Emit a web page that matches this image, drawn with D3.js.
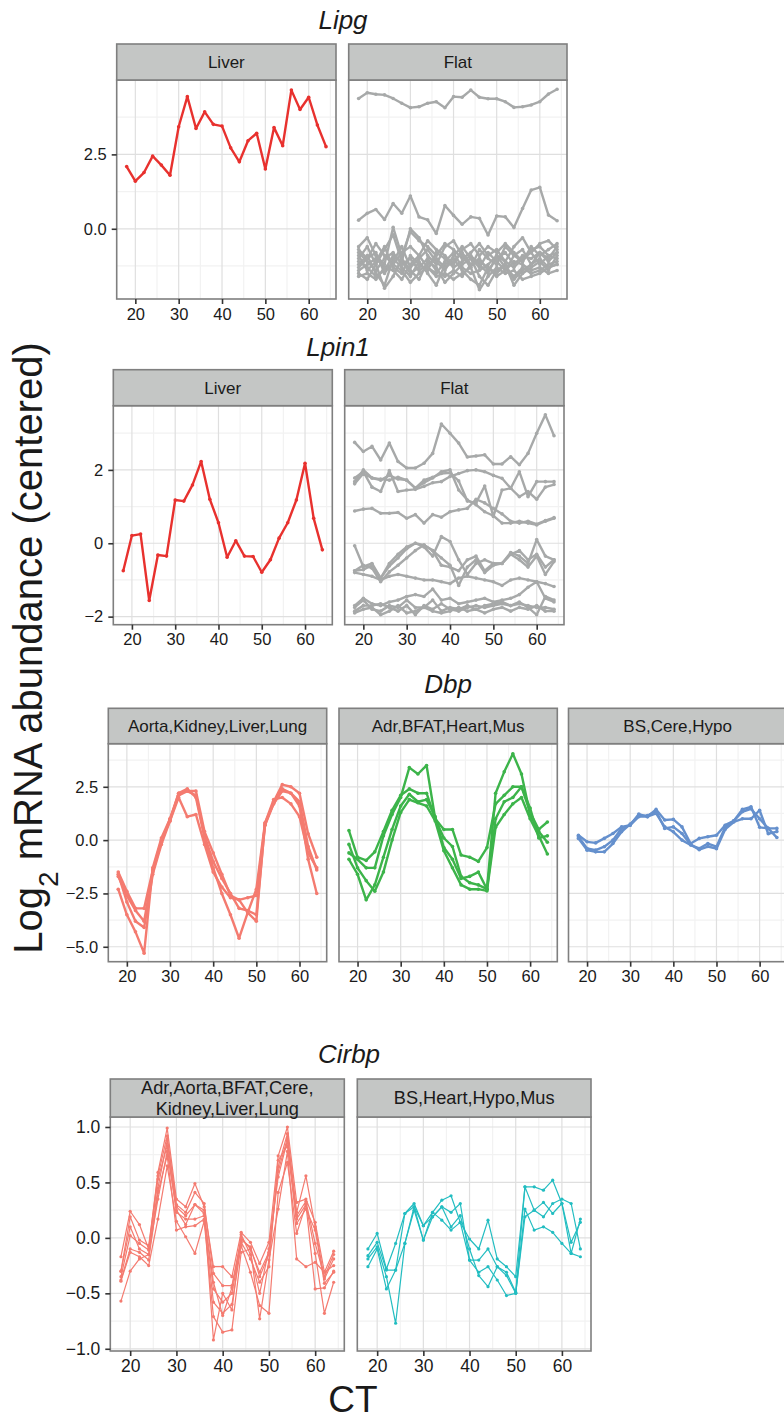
<!DOCTYPE html>
<html>
<head>
<meta charset="utf-8">
<script src="https://cdn.jsdelivr.net/npm/d3@7"></script>
<style>
  body { margin: 0; background: #fff; }
  svg { display: block; }
  text { font-family: "Liberation Sans", Arial, Helvetica, sans-serif; fill: #1a1a1a; }
</style>
</head>
<body>
<div id="chart"></div>
<script>
// circadian time points (hours)
var ct = [18, 20, 22, 24, 26, 28, 30, 32, 34, 36, 38, 40, 42, 44, 46, 48, 50, 52, 54, 56, 58, 60, 62, 64];
var ctTicks = [20, 30, 40, 50, 60];

// ---- Lipg ----
var lipgFacets = ['Liver', 'Flat'];
var lipgYTicks = [0, 2.5];
var lipgLiver = [
  [2.09, 1.60, 1.89, 2.44, 2.14, 1.80, 3.43, 4.44, 3.37, 3.93, 3.51, 3.45, 2.72, 2.25, 2.96, 3.21, 2.01, 3.40, 2.79, 4.66, 4.01, 4.42, 3.49, 2.76]
];
var lipgFlat = [
  [4.38, 4.57, 4.52, 4.50, 4.38, 4.22, 4.07, 4.10, 4.22, 4.27, 4.07, 4.44, 4.42, 4.66, 4.42, 4.37, 4.37, 4.27, 4.08, 4.10, 4.16, 4.27, 4.53, 4.69],
  [0.29, 0.52, 0.65, 0.31, 0.85, 0.52, 1.10, 0.40, 0.30, -0.16, 0.78, 0.45, 0.15, 0.40, 0.35, -0.21, 0.43, 0.40, 0.04, 0.68, 1.30, 1.39, 0.46, 0.27],
  [-0.6, -0.3, -0.9, -1.2, 0.05, -0.9, -0.1, -0.4, -0.6, -0.9, -0.5, -0.7, -1.0, -0.8, -0.5, -0.9, -0.7, -1.1, -0.6, -0.3, -0.8, -0.5, -0.4, -0.7],
  [-1.0, -0.6, -1.2, -0.7, -0.2, -1.1, 0.0, -0.3, -0.9, -1.2, -0.6, -0.4, -0.9, -1.3, -0.7, -1.0, -1.2, -0.6, -0.9, -1.1, -0.6, -0.9, -0.7, -0.5],
  [-1.3, -1.0, -0.8, -1.5, -1.1, -0.6, -1.3, -1.0, -0.7, -1.1, -1.4, -0.9, -0.6, -1.0, -1.3, -0.8, -1.1, -1.4, -0.9, -0.7, -1.2, -0.8, -1.0, -0.6],
  [-0.9, -1.4, -1.1, -0.6, -1.3, -1.5, -0.9, -1.2, -1.4, -0.8, -1.0, -1.3, -1.1, -0.9, -1.2, -1.5, -0.9, -1.1, -1.3, -1.0, -0.8, -1.2, -0.9, -1.0],
  [-1.5, -1.7, -1.2, -2.0, -1.6, -1.0, -1.4, -1.7, -1.1, -1.3, -1.8, -1.5, -1.2, -1.0, -1.6, -1.9, -1.4, -1.2, -1.9, -1.5, -1.3, -1.1, -1.4, -0.9],
  [-1.2, -0.9, -1.5, -1.9, -1.0, -1.3, -1.6, -1.1, -1.5, -1.9, -1.2, -1.0, -1.4, -1.7, -1.9, -1.3, -1.5, -1.2, -1.7, -1.4, -1.2, -1.0, -1.3, -1.2],
  [-0.8, -1.1, -1.4, -1.0, -0.8, -1.2, -1.0, -1.4, -1.2, -1.0, -1.3, -1.1, -0.8, -1.2, -1.0, -1.4, -1.0, -0.8, -1.2, -0.9, -1.0, -0.8, -1.1, -0.8],
  [-1.4, -1.2, -1.0, -1.3, -1.4, -1.7, -1.2, -0.9, -1.3, -1.5, -1.1, -0.8, -1.3, -1.5, -1.4, -1.2, -0.9, -1.3, -1.6, -1.3, -1.5, -1.4, -1.2, -1.1],
  [-1.6, -1.5, -1.7, -1.3, -1.2, -1.4, -1.8, -1.5, -1.3, -1.6, -1.5, -1.7, -1.5, -1.3, -2.05, -1.6, -1.3, -1.5, -1.4, -1.7, -1.6, -1.5, -1.3, -1.2],
  [-0.7, -1.0, -0.5, -0.9, -1.2, -0.8, -0.6, -0.9, -0.4, -0.7, -0.9, -1.2, -0.7, -0.5, -0.9, -0.6, -0.8, -0.5, -0.8, -1.1, -0.7, -0.6, -0.9, -0.8],
  [-1.1, -1.3, -1.6, -1.4, -0.9, -1.1, -1.5, -1.3, -1.0, -1.4, -1.6, -1.4, -1.6, -1.2, -1.1, -1.3, -1.6, -1.4, -1.1, -1.2, -1.4, -1.3, -1.5, -1.4]
];

// ---- Lpin1 ----
var lpin1Facets = ['Liver', 'Flat'];
var lpin1YTicks = [-2, 0, 2];
var lpin1Liver = [
  [-0.75, 0.21, 0.25, -1.56, -0.32, -0.35, 1.18, 1.15, 1.59, 2.23, 1.20, 0.56, -0.38, 0.07, -0.35, -0.36, -0.79, -0.45, 0.14, 0.56, 1.18, 2.18, 0.68, -0.18]
];
var lpin1Flat = [
  [2.75, 2.50, 2.64, 2.27, 2.73, 2.23, 2.05, 2.05, 2.18, 2.45, 3.25, 3.00, 2.73, 2.35, 2.38, 2.41, 2.16, 2.16, 2.36, 2.14, 2.45, 3.00, 3.50, 2.93],
  [1.68, 2.00, 1.78, 1.72, 1.85, 1.75, 1.72, 1.50, 1.65, 1.78, 1.95, 2.00, 1.45, 1.18, 1.05, 0.86, 0.75, 0.55, 0.55, 0.60, 0.55, 0.50, 0.60, 0.68],
  [1.78, 1.95, 1.53, 1.41, 1.98, 1.41, 1.45, 1.47, 1.55, 1.65, 1.68, 1.82, 1.90, 1.98, 2.00, 1.95, 1.85, 1.77, 1.50, 1.27, 1.41, 1.20, 1.53, 1.60],
  [1.62, 1.90, 1.78, 1.75, 1.72, 1.80, 1.72, 1.50, 1.72, 1.80, 1.90, 1.92, 1.70, 1.15, 1.10, 1.56, 0.73, 1.45, 1.50, 1.95, 1.27, 1.68, 1.68, 1.68],
  [0.88, 0.93, 0.95, 0.82, 0.82, 0.84, 0.68, 0.78, 0.55, 0.78, 0.71, 0.86, 0.91, 0.95, 1.20, 1.10, 0.95, 0.80, 0.60, 0.55, 0.60, 0.52, 0.62, 0.70],
  [-0.07, -0.64, -0.55, -0.95, -0.62, -0.40, -0.15, 0.00, -0.10, -0.35, 0.18, 0.05, -0.45, -0.85, -0.55, -0.45, -0.55, -0.55, -0.25, -0.35, -0.55, 0.10, -0.35, -0.45],
  [-0.75, -0.72, -0.60, -0.95, -0.55, -0.30, -0.10, 0.00, -0.05, -0.20, -0.60, -0.65, -0.75, -0.45, -0.35, -0.75, -0.55, -0.55, -0.30, -0.45, -0.65, -0.35, -0.85, -0.50],
  [-0.75, -0.60, -0.68, -1.05, -0.78, -0.60, -0.40, -0.20, -0.05, -0.20, -0.40, -0.60, -1.15, -0.65, -0.45, -0.80, -0.60, -0.55, -0.30, -0.20, -0.45, -0.30, -0.65, -0.45],
  [-0.80, -0.85, -0.90, -1.00, -0.90, -0.85, -0.90, -0.95, -1.00, -1.00, -1.05, -1.10, -0.95, -0.90, -0.95, -1.00, -1.05, -1.15, -1.00, -0.95, -1.00, -1.05, -1.10, -1.18],
  [-1.70, -1.50, -1.65, -1.70, -1.60, -1.55, -1.45, -1.40, -1.45, -1.25, -1.55, -1.50, -1.65, -1.60, -1.55, -1.50, -1.60, -1.55, -1.50, -1.40, -1.20, -1.05, -1.50, -1.60],
  [-1.85, -1.70, -1.70, -1.65, -1.75, -1.85, -1.70, -1.95, -1.70, -1.80, -1.65, -1.80, -1.85, -1.75, -1.70, -1.75, -1.70, -1.65, -1.70, -1.60, -1.75, -1.95, -1.45, -1.55],
  [-1.75, -1.55, -1.80, -1.85, -1.70, -1.75, -1.55, -1.75, -1.75, -1.55, -1.85, -1.75, -1.80, -1.70, -1.80, -1.70, -1.65, -1.60, -1.70, -1.65, -1.70, -1.75, -1.75, -1.80],
  [-1.90, -1.80, -1.75, -1.95, -1.85, -1.70, -1.90, -1.85, -1.75, -1.85, -1.90, -1.85, -1.75, -1.85, -1.80, -1.90, -1.80, -1.75, -1.85, -1.75, -1.80, -1.70, -1.85, -1.85]
];

// ---- Dbp ----
var dbpFacets = ['Aorta,Kidney,Liver,Lung', 'Adr,BFAT,Heart,Mus', 'BS,Cere,Hypo'];
var dbpYTicks = [-5, -2.5, 0, 2.5];
var dbpGroup1 = [
  [-1.5, -2.4, -3.2, -3.2, -1.4, 0.0, 0.9, 2.2, 2.3, 2.3, 0.4, -0.6, -1.6, -2.6, -2.8, -2.7, -2.6, 0.7, 1.8, 2.6, 2.5, 2.2, 0.3, -0.8],
  [-1.7, -2.6, -3.3, -3.8, -1.5, -0.1, 1.0, 2.1, 2.3, 2.1, 0.2, -1.0, -1.8, -2.5, -3.2, -3.3, -3.5, 0.7, 1.7, 2.4, 2.2, 1.8, -0.3, -1.4],
  [-1.6, -2.9, -3.8, -4.1, -1.6, -0.2, 0.9, 2.0, 1.1, 1.2, -0.2, -1.5, -2.2, -2.7, -2.8, -3.4, -3.8, 0.8, 1.9, 2.0, 1.7, 1.1, -0.6, -1.3],
  [-2.3, -3.5, -4.3, -5.3, -1.3, 0.1, 1.0, 2.2, 2.4, 2.0, 0.1, -1.3, -2.5, -3.5, -4.6, -3.4, -2.3, 0.8, 1.7, 2.3, 2.2, 1.6, -0.9, -2.5]
];
var dbpGroup2 = [
  [-0.6, -0.9, -1.3, -1.3, 0.2, 1.2, 2.0, 3.4, 3.1, 3.5, 1.0, 0.1, -0.3, -1.7, -2.0, -2.1, -2.3, 2.2, 3.2, 4.05, 3.1, 1.2, 0.4, -0.1],
  [0.45, -0.8, -0.95, -0.55, 0.4, 1.4, 2.1, 2.4, 2.2, 2.2, 1.0, 0.5, 0.5, -0.7, -0.8, -1.0, -0.35, 1.7, 2.1, 2.5, 2.5, 1.3, 0.5, 0.85],
  [-0.9, -1.6, -2.8, -2.1, -0.8, 0.5, 1.6, 2.15, 1.8, 1.9, 1.1, -0.35, -0.9, -1.8, -1.7, -1.5, -2.3, 1.0, 1.8, 2.0, 2.5, 1.5, 0.1, 0.2],
  [-0.2, -1.3, -1.9, -2.4, -1.5, 0.0, 1.3, 1.9, 1.75, 1.6, 0.9, -0.5, -1.3, -2.1, -2.3, -2.3, -2.38, 0.6, 1.2, 1.7, 2.0, 1.0, 0.2, -0.65]
];
var dbpGroup3 = [
  [0.23, -0.08, -0.13, 0.08, 0.31, 0.62, 0.70, 1.22, 1.10, 1.44, 0.94, 0.97, 0.62, -0.16, 0.08, 0.16, 0.23, 0.70, 0.90, 1.33, 1.47, 1.00, 0.55, 0.12],
  [0.16, -0.39, -0.47, -0.31, 0.00, 0.55, 0.70, 1.10, 1.10, 1.25, 0.62, 0.39, 0.00, -0.23, -0.39, -0.16, -0.31, 0.60, 0.90, 1.44, 1.56, 0.60, 0.55, 0.55],
  [0.08, -0.47, -0.55, -0.55, -0.16, 0.39, 0.75, 1.15, 1.15, 1.35, 0.55, 0.62, 0.31, -0.20, -0.45, -0.30, -0.40, 0.50, 0.85, 1.00, 1.00, 1.40, 0.30, 0.40]
];

// ---- Cirbp ----
var cirbpFacets = [['Adr,Aorta,BFAT,Cere,', 'Kidney,Liver,Lung'], ['BS,Heart,Hypo,Mus']];
var cirbpYTicks = [-1, -0.5, 0, 0.5, 1];
var cirbpGroup1 = [
  [-0.17, 0.24, 0.12, -0.10, 0.59, 0.99, 0.35, 0.28, 0.49, 0.28, -0.26, -0.26, -0.35, 0.05, -0.04, -0.23, -0.04, 0.74, 1.00, 0.32, 0.35, 0.14, -0.31, -0.12],
  [-0.30, 0.19, -0.02, -0.07, 0.56, 0.92, 0.30, 0.23, 0.41, 0.31, -0.32, -0.43, -0.43, 0.00, -0.10, -0.31, -0.13, 0.64, 0.94, 0.23, 0.56, 0.10, -0.37, -0.19],
  [-0.35, 0.02, -0.05, -0.11, 0.53, 0.83, 0.23, 0.17, 0.17, 0.20, -0.46, -0.58, -0.50, -0.04, -0.19, -0.40, -0.26, 0.70, 0.83, 0.13, 0.26, 0.07, -0.41, -0.31],
  [-0.38, -0.10, -0.13, -0.20, 0.41, 0.74, 0.07, 0.10, 0.11, 0.17, -0.58, -0.68, -0.60, -0.07, -0.31, -0.61, -0.68, 0.41, 0.68, 0.04, 0.30, -0.14, -0.68, -0.40],
  [-0.39, -0.13, -0.17, -0.25, 0.17, 0.65, 0.15, 0.01, -0.14, 0.15, -0.71, -0.85, -0.83, -0.13, -0.10, -0.73, -0.20, 0.26, 0.78, -0.19, -0.26, -0.22, -0.31, -0.25],
  [-0.57, -0.30, -0.19, -0.15, 0.35, 0.78, 0.25, 0.12, 0.30, 0.25, -0.92, -0.50, -0.65, 0.03, -0.15, -0.50, -0.10, 0.55, 0.88, 0.17, 0.30, -0.46, -0.45, -0.30],
  [-0.30, 0.10, -0.10, -0.15, 0.45, 0.88, 0.28, 0.20, 0.30, 0.22, -0.40, -0.70, -0.45, -0.02, -0.08, -0.35, -0.15, 0.60, 0.90, 0.20, 0.33, -0.05, -0.35, -0.15]
];
var cirbpGroup2 = [
  [-0.10, 0.04, -0.28, -0.05, 0.22, 0.31, 0.11, 0.23, 0.34, 0.38, 0.14, -0.01, -0.10, 0.16, -0.19, -0.26, -0.35, 0.46, 0.46, 0.43, 0.52, 0.31, -0.14, 0.17],
  [-0.16, -0.04, -0.29, -0.29, -0.05, 0.28, -0.02, 0.19, 0.28, 0.23, 0.31, -0.20, -0.20, -0.10, -0.26, -0.31, -0.49, 0.46, 0.25, 0.19, 0.31, 0.35, 0.31, -0.10],
  [-0.19, -0.08, -0.35, -0.77, -0.05, 0.25, -0.02, 0.23, 0.16, 0.07, 0.14, -0.20, -0.31, -0.26, -0.38, -0.52, -0.50, 0.26, 0.07, 0.10, 0.05, -0.05, -0.14, -0.17],
  [-0.26, -0.10, -0.46, -0.29, 0.22, 0.28, 0.11, 0.19, 0.28, 0.10, 0.20, -0.10, -0.34, -0.44, -0.26, -0.34, -0.50, 0.19, 0.25, 0.32, 0.22, 0.31, -0.04, 0.14]
];

var W = 784, H = 1421;
var svg = d3.select('#chart').append('svg').attr('width', W).attr('height', H);

// ggplot style 5% expansion of the CT range
var ctExt = d3.extent(ct), ctPad = (ctExt[1] - ctExt[0]) * 0.05;
var ctDomain = [ctExt[0] - ctPad, ctExt[1] + ctPad];

// minor breaks half way between majors, kept inside the limits
function minorBreaks(major, dom) {
  var step = major[1] - major[0], out = [];
  for (var v = major[0] - step / 2; v <= major[major.length - 1] + step; v += step) {
    if (v > Math.min(dom[0], dom[1]) && v < Math.max(dom[0], dom[1])) out.push(v);
  }
  return out;
}

function drawRow(row) {
  var g = svg.append('g');
  g.append('text')
    .attr('x', row.titleX).attr('y', row.titleY)
    .attr('text-anchor', 'middle')
    .style('font-size', '26px').style('font-style', 'italic')
    .text(row.title);

  var y = d3.scaleLinear().domain(row.yDomain).range([row.plotBottom, row.stripBottom]);
  var yMinor = minorBreaks(row.yTicks, row.yDomain);

  row.panels.forEach(function(p, i) {
    var x = d3.scaleLinear().domain(ctDomain).range([p.x0, p.x1]);
    var pg = g.append('g');
    var pw = p.x1 - p.x0;

    pg.append('rect')
      .attr('x', p.x0).attr('y', row.stripBottom)
      .attr('width', pw).attr('height', row.plotBottom - row.stripBottom)
      .attr('fill', '#fff');

    // minor grid
    pg.selectAll(null).data(minorBreaks(ctTicks, ctDomain)).enter().append('line')
      .attr('x1', x).attr('x2', x).attr('y1', row.stripBottom).attr('y2', row.plotBottom)
      .attr('stroke', '#f2f2f2').attr('stroke-width', 1.2);
    pg.selectAll(null).data(yMinor).enter().append('line')
      .attr('x1', p.x0).attr('x2', p.x1).attr('y1', y).attr('y2', y)
      .attr('stroke', '#f2f2f2').attr('stroke-width', 1.2);
    // major grid
    pg.selectAll(null).data(ctTicks).enter().append('line')
      .attr('x1', x).attr('x2', x).attr('y1', row.stripBottom).attr('y2', row.plotBottom)
      .attr('stroke', '#dfdfdf').attr('stroke-width', 1.2);
    pg.selectAll(null).data(row.yTicks).enter().append('line')
      .attr('x1', p.x0).attr('x2', p.x1).attr('y1', y).attr('y2', y)
      .attr('stroke', '#dfdfdf').attr('stroke-width', 1.2);

    var line = d3.line()
      .x(function(d, j) { return x(ct[j]); })
      .y(function(d) { return y(d); });

    p.series.forEach(function(s) {
      pg.append('path').datum(s)
        .attr('d', line)
        .attr('fill', 'none')
        .attr('stroke', p.color)
        .attr('stroke-width', row.lineWidth)
        .attr('stroke-linejoin', 'round');
    });
    p.series.forEach(function(s) {
      pg.selectAll(null).data(s).enter().append('circle')
        .attr('cx', function(d, j) { return x(ct[j]); })
        .attr('cy', function(d) { return y(d); })
        .attr('r', row.pointR)
        .attr('fill', p.color);
    });

    // panel border
    pg.append('rect')
      .attr('x', p.x0).attr('y', row.stripBottom)
      .attr('width', pw).attr('height', row.plotBottom - row.stripBottom)
      .attr('fill', 'none').attr('stroke', '#7f7f7f').attr('stroke-width', 1.6);

    // strip
    pg.append('rect')
      .attr('x', p.x0).attr('y', row.stripTop)
      .attr('width', pw).attr('height', row.stripBottom - row.stripTop)
      .attr('fill', '#c4c6c5').attr('stroke', '#7f7f7f').attr('stroke-width', 1.6);
    var lines = [].concat(p.label);
    var mid = (row.stripTop + row.stripBottom) / 2 + row.stripFont * 0.35;
    lines.forEach(function(t, k) {
      pg.append('text')
        .attr('x', p.x0 + pw / 2)
        .attr('y', mid + (k - (lines.length - 1) / 2) * row.stripFont * 1.16)
        .attr('text-anchor', 'middle')
        .style('font-size', row.stripFont + 'px')
        .text(t);
    });

    // x axis
    var xa = pg.append('g')
      .attr('transform', 'translate(0,' + row.plotBottom + ')')
      .call(d3.axisBottom(x).tickValues(ctTicks).tickSize(5).tickPadding(4));
    styleAxis(xa, row.tickFont);

    if (i === 0) {
      var ya = pg.append('g')
        .attr('transform', 'translate(' + p.x0 + ',0)')
        .call(d3.axisLeft(y).tickValues(row.yTicks).tickFormat(d3.format(row.yFormat)).tickSize(5).tickPadding(5));
      styleAxis(ya, row.tickFont);
    }
  });
}

function styleAxis(a, fs) {
  a.select('.domain').remove();
  a.selectAll('.tick line').attr('stroke', '#333').attr('stroke-width', 1.6);
  a.selectAll('.tick text')
    .attr('fill', '#1a1a1a')
    .style('font-size', fs + 'px')
    .style('font-family', '"Liberation Sans", Arial, Helvetica, sans-serif');
}

drawRow({
  title: 'Lipg', titleX: 343, titleY: 29,
  stripTop: 44, stripBottom: 80, plotBottom: 299,
  yDomain: [-2.36, 5.0], yTicks: lipgYTicks, yFormat: '.1f',
  lineWidth: 2.4, pointR: 1.8, tickFont: 16.5, stripFont: 17,
  panels: [
    { x0: 116.7, x1: 336, label: lipgFacets[0], series: lipgLiver, color: '#e8312e' },
    { x0: 348.7, x1: 567, label: lipgFacets[1], series: lipgFlat, color: '#a7a9a9' }
  ]
});

drawRow({
  title: 'Lpin1', titleX: 338, titleY: 356,
  stripTop: 369.7, stripBottom: 405.7, plotBottom: 624.7,
  yDomain: [-2.22, 3.75], yTicks: lpin1YTicks, yFormat: 'd',
  lineWidth: 2.4, pointR: 1.8, tickFont: 16.5, stripFont: 17,
  panels: [
    { x0: 113.3, x1: 332.3, label: lpin1Facets[0], series: lpin1Liver, color: '#e8312e' },
    { x0: 344.7, x1: 564, label: lpin1Facets[1], series: lpin1Flat, color: '#a7a9a9' }
  ]
});

drawRow({
  title: 'Dbp', titleX: 448, titleY: 693,
  stripTop: 708.3, stripBottom: 743.7, plotBottom: 961.7,
  yDomain: [-5.70, 4.52], yTicks: dbpYTicks, yFormat: '.1f',
  lineWidth: 2.4, pointR: 1.8, tickFont: 16.5, stripFont: 17,
  panels: [
    { x0: 108.3, x1: 326.7, label: dbpFacets[0], series: dbpGroup1, color: '#f47b70' },
    { x0: 339, x1: 557.3, label: dbpFacets[1], series: dbpGroup2, color: '#3cb44a' },
    { x0: 568.5, x1: 786.8, label: dbpFacets[2], series: dbpGroup3, color: '#6590cd' }
  ]
});

drawRow({
  title: 'Cirbp', titleX: 349, titleY: 1063,
  stripTop: 1079, stripBottom: 1117, plotBottom: 1351,
  yDomain: [-1.02, 1.09], yTicks: cirbpYTicks, yFormat: '.1f',
  lineWidth: 1.2, pointR: 1.6, tickFont: 17.5, stripFont: 18.2,
  panels: [
    { x0: 110.3, x1: 344.3, label: cirbpFacets[0], series: cirbpGroup1, color: '#f47b70' },
    { x0: 357.3, x1: 591, label: cirbpFacets[1], series: cirbpGroup2, color: '#22bdc1' }
  ]
});

// shared axis titles
var yt = svg.append('text')
  .attr('transform', 'translate(42,648) rotate(-90)')
  .attr('text-anchor', 'middle')
  .style('font-size', '40px');
yt.append('tspan').text('Log');
yt.append('tspan').attr('baseline-shift', 'sub').style('font-size', '28px').text('2');
yt.append('tspan').text(' mRNA abundance (centered)');

svg.append('text')
  .attr('x', 353).attr('y', 1412)
  .attr('text-anchor', 'middle')
  .style('font-size', '37px')
  .text('CT');
</script>
</body>
</html>
